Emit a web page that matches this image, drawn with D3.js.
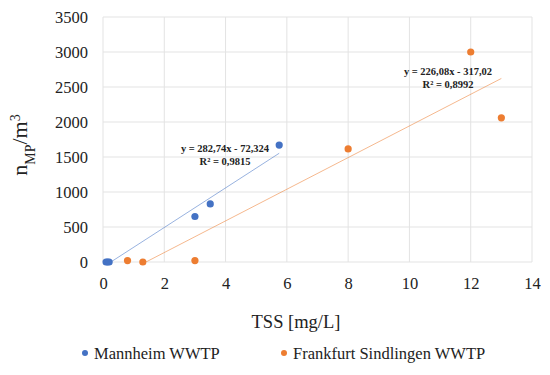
<!DOCTYPE html>
<html>
<head>
<meta charset="utf-8">
<script src="https://cdn.jsdelivr.net/npm/d3@7"></script>
<style>
  body { margin: 0; background: #fff; }
  text { font-family: "Liberation Serif", "DejaVu Serif", serif; fill: #222; }
</style>
</head>
<body>
<svg id="chart" width="550" height="375"></svg>
<script>
// data
const seriesNames = ["Mannheim WWTP", "Frankfurt Sindlingen WWTP"];
const seriesColors = ["#4472C4", "#ED7D31"];
const mannheimX = [0.1, 0.15, 0.2, 3.0, 3.5, 5.75];
const mannheimY = [0, 0, 0, 650, 830, 1670];
const frankfurtX = [0.8, 1.3, 3.0, 8.0, 12.0, 13.0];
const frankfurtY = [20, 0, 20, 1615, 3000, 2060];
const trendSlopes = [282.74, 226.08];
const trendIntercepts = [-72.324, -317.02];
const trendLabels = [["y = 282,74x - 72,324", "R² = 0,9815"], ["y = 226,08x - 317,02", "R² = 0,8992"]];
const xTicks = [0, 2, 4, 6, 8, 10, 12, 14];
const yTicks = [0, 500, 1000, 1500, 2000, 2500, 3000, 3500];

const margin = { top: 17, right: 18, bottom: 113, left: 103 };
const width = 550 - margin.left - margin.right;
const height = 375 - margin.top - margin.bottom;

const svg = d3.select("#chart");
const g = svg.append("g").attr("transform", `translate(${margin.left},${margin.top})`);

const x = d3.scaleLinear().domain([0, 14]).range([0, width]);
const y = d3.scaleLinear().domain([0, 3500]).range([height, 0]);

// grid
g.append("g")
  .selectAll("line")
  .data(yTicks)
  .join("line")
  .attr("x1", 0).attr("x2", width)
  .attr("y1", d => y(d)).attr("y2", d => y(d))
  .attr("stroke", "#e3e3e3").attr("stroke-width", 1);
g.append("g")
  .selectAll("line")
  .data(xTicks)
  .join("line")
  .attr("x1", d => x(d)).attr("x2", d => x(d))
  .attr("y1", 0).attr("y2", height)
  .attr("stroke", "#e3e3e3").attr("stroke-width", 1);

// axes (labels only)
const xAxis = g.append("g")
  .attr("transform", `translate(0,${height})`)
  .call(d3.axisBottom(x).tickValues(xTicks).tickSize(0).tickPadding(15).tickFormat(d3.format("d")));
xAxis.select(".domain").remove();
xAxis.selectAll("text").style("font-size", "16.5px").attr("font-family", null);

const yAxis = g.append("g")
  .call(d3.axisLeft(y).tickValues(yTicks).tickSize(0).tickPadding(15).tickFormat(d3.format("d")));
yAxis.select(".domain").remove();
yAxis.selectAll("text").style("font-size", "16.5px").attr("font-family", null);

// trendlines, clipped to the plot
g.append("clipPath").attr("id", "plotclip")
  .append("rect").attr("width", width).attr("height", height);

const allX = [mannheimX, frankfurtX];
const allY = [mannheimY, frankfurtY];

allX.forEach((xs, i) => {
  const x0 = d3.min(xs), x1 = d3.max(xs);
  const f = v => trendSlopes[i] * v + trendIntercepts[i];
  g.append("line")
    .attr("clip-path", "url(#plotclip)")
    .attr("x1", x(x0)).attr("y1", y(f(x0)))
    .attr("x2", x(x1)).attr("y2", y(f(x1)))
    .attr("stroke", seriesColors[i])
    .attr("stroke-opacity", 0.55)
    .attr("stroke-width", 1);
});

// points
allX.forEach((xs, i) => {
  g.append("g")
    .selectAll("circle")
    .data(xs.map((v, j) => [v, allY[i][j]]))
    .join("circle")
    .attr("cx", d => x(d[0]))
    .attr("cy", d => y(d[1]))
    .attr("r", 3.6)
    .attr("fill", seriesColors[i]);
});

// equation labels
const labelPos = [[225, 152], [448, 75]];
trendLabels.forEach((lines, i) => {
  const t = svg.append("text")
    .attr("text-anchor", "middle")
    .style("font-size", "10.5px")
    .style("font-weight", "bold");
  lines.forEach((s, k) => {
    t.append("tspan")
      .attr("x", labelPos[i][0])
      .attr("y", labelPos[i][1] + k * 13)
      .text(s);
  });
});

// axis titles
svg.append("text")
  .attr("x", 296)
  .attr("y", 328)
  .attr("text-anchor", "middle")
  .style("font-size", "18.5px")
  .text("TSS [mg/L]");

const yt = svg.append("text")
  .attr("transform", "translate(27,145) rotate(-90)")
  .attr("text-anchor", "middle")
  .style("font-size", "22px");
yt.append("tspan").text("n");
yt.append("tspan").attr("baseline-shift", "sub").style("font-size", "14px").text("MP");
yt.append("tspan").text("/m");
yt.append("tspan").attr("baseline-shift", "super").style("font-size", "14px").text("3");

// legend
const legendX = [85, 284];
seriesNames.forEach((name, i) => {
  const lg = svg.append("g").attr("transform", `translate(${legendX[i]},353)`);
  lg.append("circle").attr("r", 3).attr("fill", seriesColors[i]);
  lg.append("text").attr("x", 9).attr("y", 5.5).style("font-size", "16.5px").text(name);
});
</script>
</body>
</html>
